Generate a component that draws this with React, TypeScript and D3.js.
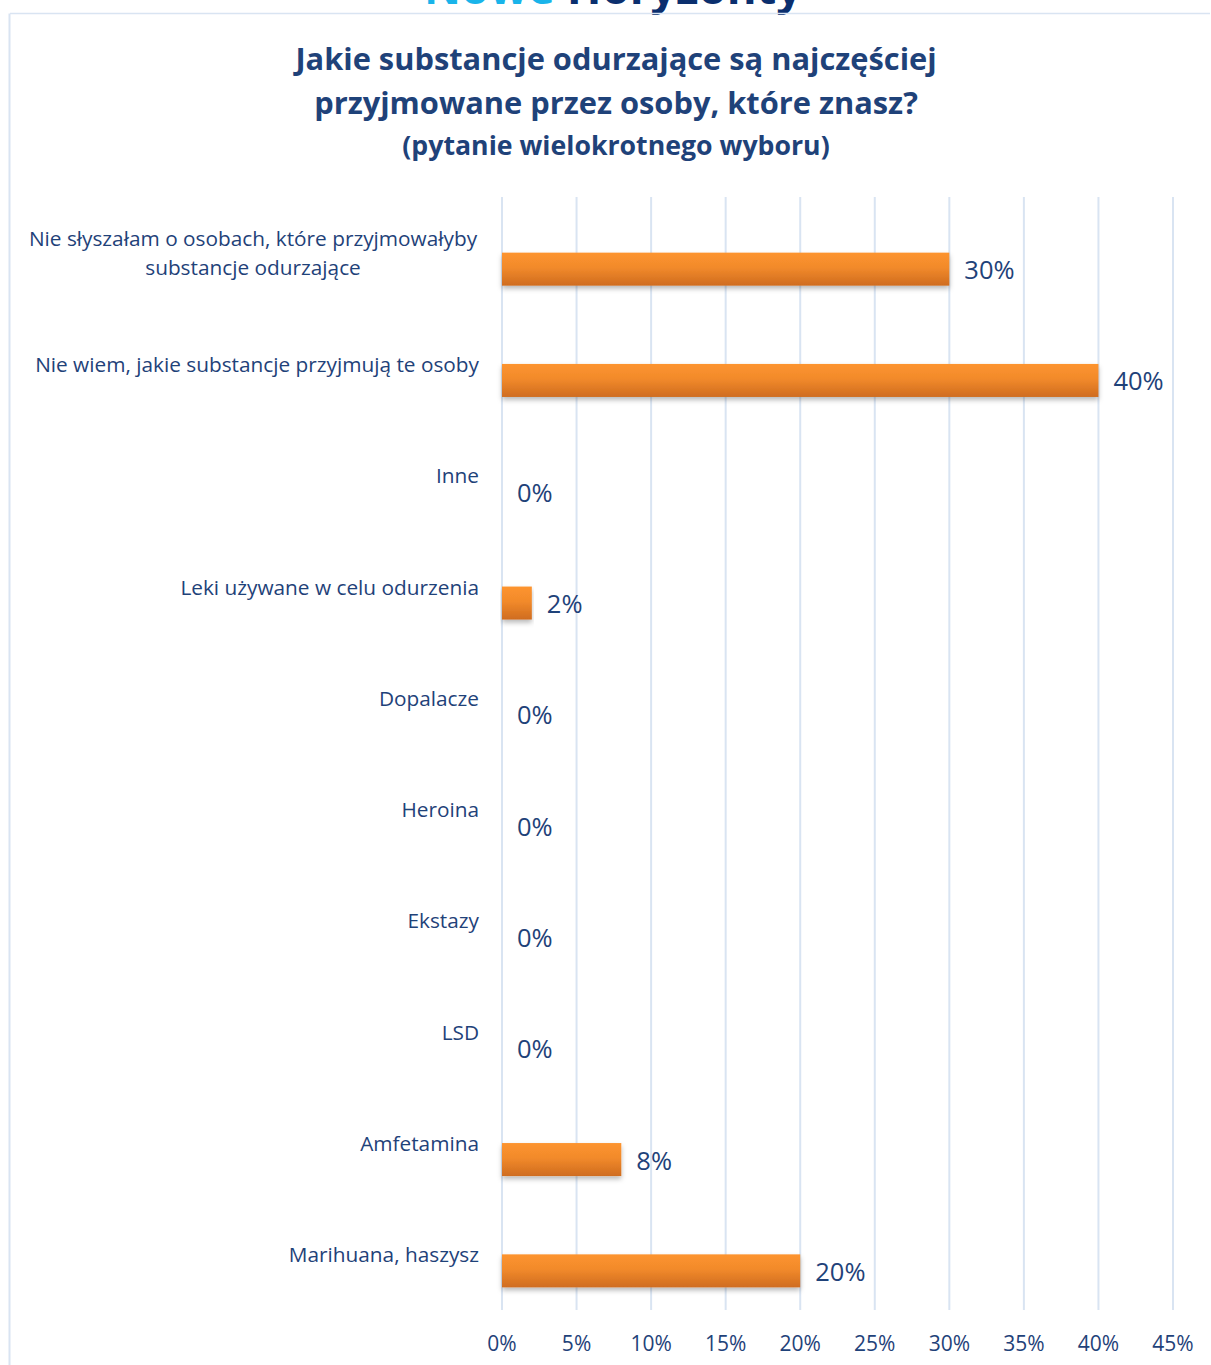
import React from 'react';
import * as d3 from 'd3';

const categories = [
    'Nie słyszałam o osobach, które przyjmowałyby\nsubstancje odurzające',
    'Nie wiem, jakie substancje przyjmują te osoby',
    'Inne',
    'Leki używane w celu odurzenia',
    'Dopalacze',
    'Heroina',
    'Ekstazy',
    'LSD',
    'Amfetamina',
    'Marihuana, haszysz',
];
const values = [30, 40, 0, 2, 0, 0, 0, 0, 8, 20];
const ticks = [0, 5, 10, 15, 20, 25, 30, 35, 40, 45];
const titleLines = [
    'Jakie substancje odurzające są najczęściej',
    'przyjmowane przez osoby, które znasz?',
];
const subtitle = '(pytanie wielokrotnego wyboru)';

const W = 1211;
const H = 1365;
const FONT = '"Open Sans", "Noto Sans", sans-serif';
const TEXT = '#1f4279';
const GRID = '#d9e4f2';

const App: React.FC = () => {
    const x = d3.scaleLinear().domain([0, 45]).range([502, 1173]);
    const y = d3.scaleBand<string>().domain(categories).range([197, 1310]).padding(0);
    const barH = 33;

    return (
        <svg width={W} height={H} style={{ position: 'absolute', left: 0, top: 0, background: '#fff' }}>
            <defs>
                <linearGradient id="barFill" x1="0" y1="0" x2="0" y2="1">
                    <stop offset="0%" stopColor="#fd942f" />
                    <stop offset="45%" stopColor="#f28a2b" />
                    <stop offset="100%" stopColor="#cf6c1f" />
                </linearGradient>
                <filter id="shadow" x="-5%" y="-20%" width="110%" height="160%">
                    <feDropShadow dx="0" dy="3" stdDeviation="2.5" floodColor="#000" floodOpacity="0.28" />
                </filter>
            </defs>

            {/* header logo, cut off at the top as in the source */}
            <text x={424} y={4} fontFamily={FONT} fontWeight={700} fontSize={45.5}>
                <tspan fill="#19b4ea">Nowe </tspan>
                <tspan fill="#0b2f6e">Horyzonty</tspan>
            </text>

            {/* frame */}
            <line x1={10} y1={13.5} x2={1210} y2={13.5} stroke={GRID} strokeWidth={1.5} />
            <line x1={9.5} y1={13.5} x2={9.5} y2={H} stroke={GRID} strokeWidth={2} />

            {/* title */}
            {titleLines.map((t, i) => (
                <text key={t} x={616} y={70 + i * 44} textAnchor="middle" fontFamily={FONT}
                    fontWeight={700} fontSize={30.8} fill={TEXT}>{t}</text>
            ))}
            <text x={616} y={155} textAnchor="middle" fontFamily={FONT} fontWeight={700}
                fontSize={26.7} fill={TEXT}>{subtitle}</text>

            {/* grid */}
            {ticks.map(t => (
                <line key={t} x1={x(t)} x2={x(t)} y1={197} y2={1310} stroke={GRID} strokeWidth={2} />
            ))}

            {/* bars */}
            {categories.map((c, i) => {
                const cy = (y(c) as number) + y.bandwidth() / 2;
                const v = values[i];
                return (
                    <g key={c}>
                        {v > 0 && (
                            <rect x={x(0)} y={cy} width={x(v) - x(0)} height={barH}
                                fill="url(#barFill)" filter="url(#shadow)" />
                        )}
                        <text x={x(v) + 15} y={cy + barH / 2} dominantBaseline="central"
                            fontFamily={FONT} fontSize={25.5} fill={TEXT}>{v}%</text>
                    </g>
                );
            })}

            {/* category labels */}
            {categories.map(c => {
                const cy = (y(c) as number) + y.bandwidth() / 2;
                const lines = c.split('\n');
                if (lines.length === 1) {
                    return (
                        <text key={c} x={479} y={cy} textAnchor="end" dominantBaseline="central"
                            fontFamily={FONT} fontSize={20.8} fill={TEXT}>{c}</text>
                    );
                }
                return (
                    <text key={c} x={253} textAnchor="middle" fontFamily={FONT} fontSize={20.8} fill={TEXT}>
                        {lines.map((l, j) => (
                            <tspan key={l} x={253} y={cy + (j - (lines.length - 1) / 2) * 29}
                                dominantBaseline="central">{l}</tspan>
                        ))}
                    </text>
                );
            })}

            {/* x axis tick labels */}
            {ticks.map(t => (
                <text key={t} x={x(t)} y={1343} textAnchor="middle" dominantBaseline="central"
                    fontFamily={FONT} fontSize={21} fill={TEXT}>{t}%</text>
            ))}
        </svg>
    );
};

export default App;
